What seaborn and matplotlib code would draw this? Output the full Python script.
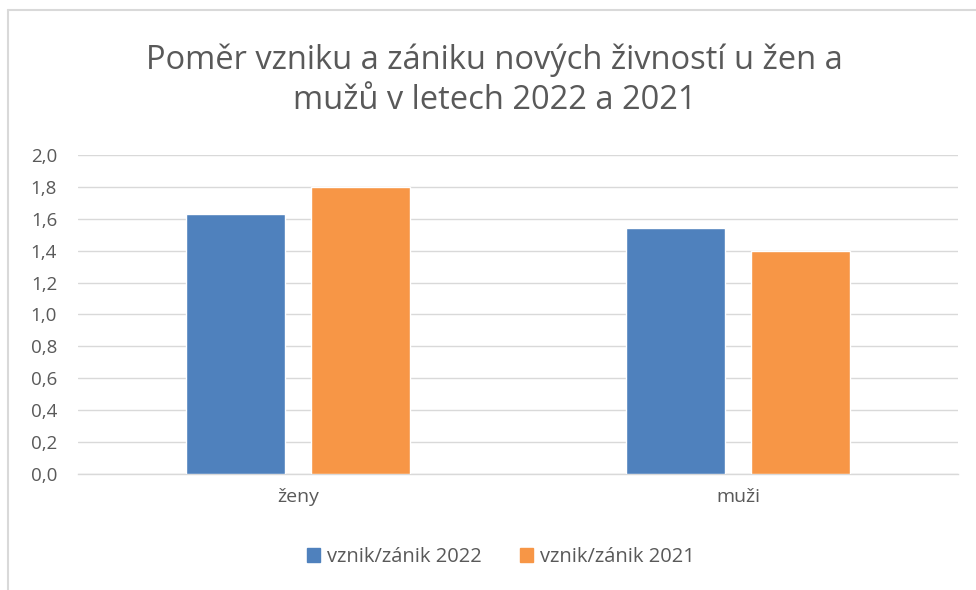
import pandas as pd
import matplotlib.pyplot as plt
import seaborn as sns
from matplotlib.lines import Line2D
from matplotlib.ticker import FuncFormatter

# --- DATA ---
CATEGORIES = ['ženy', 'muži']
SERIES = ['vznik/zánik 2022', 'vznik/zánik 2021']
VALUES_2022 = [1.63, 1.54]
VALUES_2021 = [1.80, 1.40]
TITLE = 'Poměr vzniku a zániku nových živností u žen a\nmužů v letech 2022 a 2021'

COLORS = ['#4F81BD', '#F79646']
TEXT_GRAY = '#595959'
GRID_GRAY = '#D9D9D9'

df = pd.DataFrame({
    'kategorie': CATEGORIES * 2,
    'serie': [SERIES[0]] * 2 + [SERIES[1]] * 2,
    'hodnota': VALUES_2022 + VALUES_2021,
})

sns.set_theme(style='white')
plt.rcParams['font.family'] = ['Open Sans', 'DejaVu Sans']

fig = plt.figure(figsize=(9.76, 5.9), dpi=100)
ax = fig.add_axes([0.0799, 0.1966, 0.9016, 0.5407])

sns.barplot(data=df, x='kategorie', y='hodnota', hue='serie', order=CATEGORIES,
            hue_order=SERIES, palette=COLORS, width=0.57, gap=0.21,
            saturation=1, errorbar=None, ax=ax, zorder=3)

ax.set_xlim(-0.5, 1.5)
ax.set_ylim(0, 2.0)
ax.set_yticks([i / 10 for i in range(0, 21, 2)])
ax.yaxis.set_major_formatter(FuncFormatter(lambda v, p: f'{v:.1f}'.replace('.', ',')))
ax.grid(axis='y', color=GRID_GRAY, linewidth=1, zorder=0)
ax.set_xlabel('')
ax.set_ylabel('')
for s in ['top', 'right', 'left']:
    ax.spines[s].set_visible(False)
ax.spines['bottom'].set_color(GRID_GRAY)
ax.spines['bottom'].set_linewidth(1)
ax.tick_params(axis='both', length=0, labelcolor=TEXT_GRAY)
ax.tick_params(axis='x', labelsize=14, pad=10)
ax.tick_params(axis='y', labelsize=13.5, pad=15)

ax.legend_.remove()
handles = [plt.Rectangle((0, 0), 1, 1, color=c) for c in COLORS]
fig.legend(handles, SERIES, loc='center', bbox_to_anchor=(0.513, 0.056), ncol=2,
           frameon=False, fontsize=14.5, labelcolor=TEXT_GRAY, handlelength=0.65,
           handleheight=0.65, handletextpad=0.35, columnspacing=1.9)

fig.text(0.507, 0.864, TITLE, ha='center', va='center', fontsize=23.5,
         color=TEXT_GRAY, linespacing=1.3)

# chart outer border (visible on left and top)
fig.add_artist(Line2D([8 / 976, 8 / 976], [0, 1 - 10 / 590], color=GRID_GRAY,
                      linewidth=1.5, transform=fig.transFigure))
fig.add_artist(Line2D([8 / 976, 1], [1 - 10 / 590, 1 - 10 / 590], color=GRID_GRAY,
                      linewidth=1.5, transform=fig.transFigure))

fig.savefig('out.png', dpi=100, facecolor='white')
